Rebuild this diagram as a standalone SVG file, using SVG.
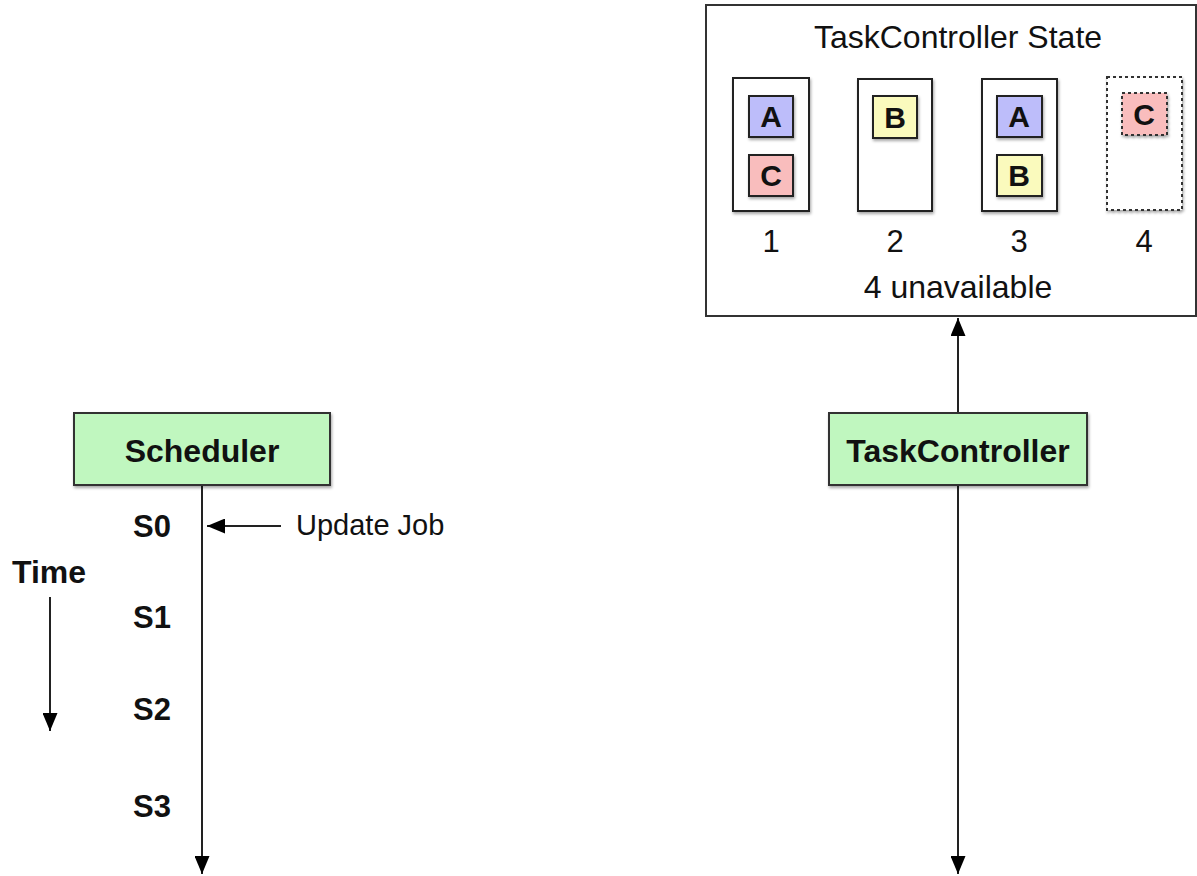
<svg xmlns="http://www.w3.org/2000/svg" width="1197" height="876" viewBox="0 0 1197 876">
<defs>
<filter id="sh" x="-10%" y="-10%" width="130%" height="130%">
<feDropShadow dx="1" dy="2" stdDeviation="1.5" flood-color="#000" flood-opacity="0.35"/>
</filter>
<marker id="ahb" viewBox="0 0 18 15" refX="18" refY="7.5" markerWidth="18" markerHeight="15" markerUnits="userSpaceOnUse" orient="auto">
<path d="M0,0 L18,7.5 L0,15 Z" fill="#000"/>
</marker>
</defs>
<style>
.t{font-family:"Liberation Sans",Arial,sans-serif;fill:#111}
.b{font-weight:bold}
.node{fill:#c0f7bf;stroke:#333;stroke-width:2}
.slot{fill:#fff;stroke:#222;stroke-width:2}
.task{stroke:#222;stroke-width:2}
.ln{stroke:#222;stroke-width:2;fill:none}
.tl{font-size:30px;text-anchor:middle}
</style>
<rect width="1197" height="876" fill="#fff"/>

<g id="state">
<rect x="706" y="5" width="490" height="311" fill="#fff" stroke="#333" stroke-width="2"/>
<text class="t" x="958" y="48" font-size="32" text-anchor="middle">TaskController State</text>
<g id="slot1">
<rect class="slot" x="733" y="78" width="76" height="133" filter="url(#sh)"/>
<rect class="task" x="749" y="96" width="44" height="41" fill="#bdbdfa" filter="url(#sh)"/>
<text class="t b tl" x="771" y="127">A</text>
<rect class="task" x="749" y="155" width="44" height="41" fill="#f9bdbd" filter="url(#sh)"/>
<text class="t b tl" x="771" y="186">C</text>
<text class="t" x="771" y="252" font-size="31" text-anchor="middle">1</text>
</g>
<g id="slot2">
<rect class="slot" x="858" y="79" width="74" height="132" filter="url(#sh)"/>
<rect class="task" x="873" y="96" width="44" height="42" fill="#fafabd" filter="url(#sh)"/>
<text class="t b tl" x="895" y="128">B</text>
<text class="t" x="895" y="252" font-size="31" text-anchor="middle">2</text>
</g>
<g id="slot3">
<rect class="slot" x="982" y="79" width="75" height="132" filter="url(#sh)"/>
<rect class="task" x="997" y="96" width="45" height="41" fill="#bdbdfa" filter="url(#sh)"/>
<text class="t b tl" x="1019" y="127">A</text>
<rect class="task" x="997" y="155" width="45" height="41" fill="#fafabd" filter="url(#sh)"/>
<text class="t b tl" x="1019" y="186">B</text>
<text class="t" x="1019" y="252" font-size="31" text-anchor="middle">3</text>
</g>
<g id="slot4">
<rect x="1107" y="77" width="75" height="133" fill="#fff" stroke="#333" stroke-width="2" stroke-dasharray="3,3" filter="url(#sh)"/>
<rect x="1122" y="93" width="45" height="42" fill="#f9bdbd" stroke="#333" stroke-width="2" stroke-dasharray="3,3" filter="url(#sh)"/>
<text class="t b tl" x="1144" y="125">C</text>
<text class="t" x="1144" y="252" font-size="31" text-anchor="middle">4</text>
</g>
<text class="t" x="958" y="298" font-size="32" text-anchor="middle">4 unavailable</text>
</g>

<g id="connectors">
<line class="ln" x1="202" y1="485" x2="202" y2="874" marker-end="url(#ahb)"/>
<line class="ln" x1="958" y1="485" x2="958" y2="874" marker-end="url(#ahb)"/>
<line class="ln" x1="958" y1="413" x2="958" y2="318" marker-end="url(#ahb)"/>
<line class="ln" x1="281" y1="526" x2="207" y2="526" marker-end="url(#ahb)"/>
<line class="ln" x1="50" y1="597" x2="50" y2="731" marker-end="url(#ahb)"/>
</g>

<g id="scheduler">
<rect class="node" x="74" y="413" width="256" height="72" filter="url(#sh)"/>
<text class="t b" x="202" y="462" font-size="32" text-anchor="middle">Scheduler</text>
</g>
<g id="taskcontroller">
<rect class="node" x="829" y="413" width="258" height="72" filter="url(#sh)"/>
<text class="t b" x="958" y="462" font-size="32" text-anchor="middle">TaskController</text>
</g>

<g id="labels">
<text class="t b" x="133" y="537" font-size="31">S0</text>
<text class="t b" x="133" y="628" font-size="31">S1</text>
<text class="t b" x="133" y="720" font-size="31">S2</text>
<text class="t b" x="133" y="817" font-size="31">S3</text>
<text class="t b" x="12" y="583" font-size="32">Time</text>
<text class="t" x="296" y="535" font-size="29">Update Job</text>
</g>
</svg>
